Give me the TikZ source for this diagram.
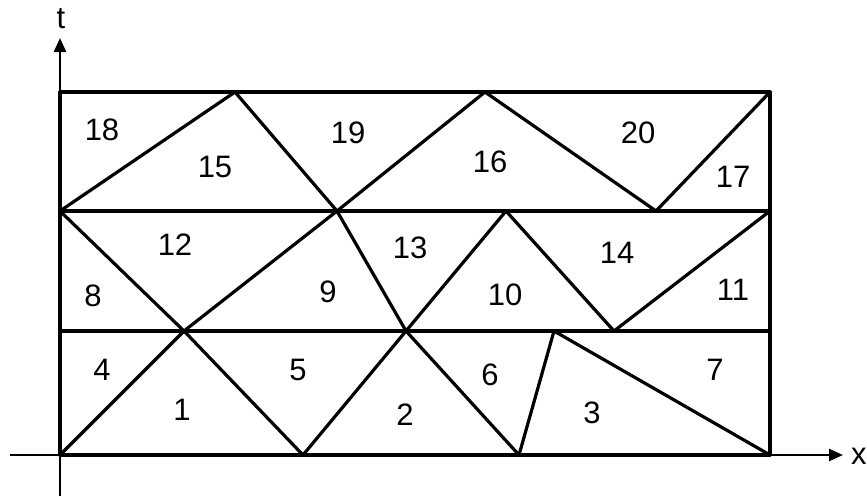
\documentclass[tikz,border=0pt]{standalone}
\usepackage{fontspec}
\setmainfont{Liberation Sans}
\usetikzlibrary{arrows.meta}
\begin{document}
\begin{tikzpicture}[x=1pt,y=-1pt,
  edge/.style={line width=3.2pt,line cap=round,line join=round},
  axis/.style={line width=2.4pt,-{Triangle[length=14pt,width=12pt]}},
  lab/.style={font=\fontsize{31}{32}\selectfont,inner sep=0pt}]
\useasboundingbox (0,0) rectangle (867,496);
% vertices
\coordinate (b0) at (60,455);
\coordinate (b1) at (303,455);
\coordinate (b2) at (519,455);
\coordinate (b3) at (770,455);
\coordinate (m0) at (60,331);
\coordinate (m1) at (184,331);
\coordinate (m2) at (406,331);
\coordinate (m3) at (554,331);
\coordinate (m4) at (614,331);
\coordinate (m5) at (770,331);
\coordinate (n0) at (60,211);
\coordinate (n1) at (337,211);
\coordinate (n2) at (506,211);
\coordinate (n3) at (656,211);
\coordinate (n4) at (770,211);
\coordinate (t0) at (60,92);
\coordinate (t1) at (235,92);
\coordinate (t2) at (485,92);
\coordinate (t3) at (770,92);
% axes
\coordinate (xs) at (10,455);
\coordinate (xe) at (843,455);
\coordinate (ys) at (60,496);
\coordinate (ye) at (60,38);
\draw[axis] (xs) -- (xe);
\draw[axis] (ys) -- (ye);
\node[lab,anchor=west] (xl) at (851,456) {x};
\node[lab] (tl) at (61,19) {t};
% frame and strips
\draw[edge] (b0) -- (t0) -- (t3) -- (b3) -- cycle;
\draw[edge] (m0) -- (m5);
\draw[edge] (n0) -- (n4);
% bottom strip
\draw[edge] (b0) -- (m1) -- (b1) -- (m2) -- (b2) -- (m3) -- (b3);
% middle strip
\draw[edge] (n0) -- (m1) -- (n1) -- (m2) -- (n2) -- (m4) -- (n4);
% top strip
\draw[edge] (n0) -- (t1) -- (n1) -- (t2) -- (n3) -- (t3);
% labels
\node[lab] (l18) at (102,130) {18};
\node[lab] (l15) at (215,167) {15};
\node[lab] (l19) at (348,133) {19};
\node[lab] (l16) at (490,162) {16};
\node[lab] (l20) at (638,133) {20};
\node[lab] (l17) at (733,177) {17};
\node[lab] (l12) at (175,245) {12};
\node[lab] (l13) at (410,248) {13};
\node[lab] (l14) at (617,253) {14};
\node[lab] (l8) at (93,296) {8};
\node[lab] (l9) at (328,292) {9};
\node[lab] (l10) at (505,295) {10};
\node[lab] (l11) at (733,290) {11};
\node[lab] (l4) at (102,370) {4};
\node[lab] (l5) at (298,370) {5};
\node[lab] (l6) at (490,375) {6};
\node[lab] (l7) at (715,370) {7};
\node[lab] (l1) at (182,410) {1};
\node[lab] (l2) at (405,415) {2};
\node[lab] (l3) at (592,413) {3};
\end{tikzpicture}
\end{document}
